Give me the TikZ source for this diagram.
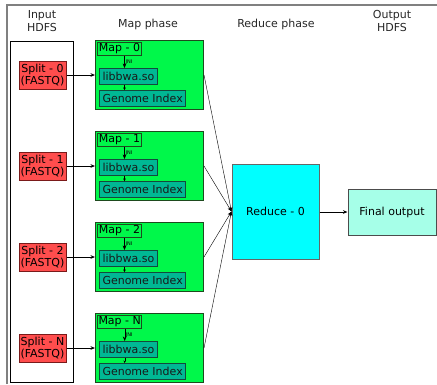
\documentclass[tikz,border=0pt]{standalone}
\usepackage{fontspec}
\setmainfont{DejaVu Sans}
\usetikzlibrary{arrows.meta,positioning}
\definecolor{framegray}{HTML}{808080}
\definecolor{splitred}{HTML}{FF4D4D}
\definecolor{splitline}{HTML}{7A1A1A}
\definecolor{mapgreen}{HTML}{00F84A}
\definecolor{mapline}{HTML}{1E4A1E}
\definecolor{libteal}{HTML}{00B894}
\definecolor{libline}{HTML}{134A3C}
\definecolor{redcyan}{HTML}{00FFFF}
\definecolor{outaqua}{HTML}{A6FFE8}

\begin{document}
\begin{tikzpicture}[
    x=1pt, y=-1pt,
    >={Stealth[length=4.5pt,width=3.6pt]},
    font=\fontsize{11}{12.5}\selectfont,
    split/.style={draw=splitline, fill=splitred, line width=1pt, align=center,
                  minimum width=47pt, minimum height=28pt, inner sep=0pt},
    mapbox/.style={draw=mapline, fill=mapgreen, line width=1pt,
                   minimum width=108pt, minimum height=69pt, inner sep=0pt},
    maptag/.style={draw=mapline, fill=mapgreen, line width=1pt,
                   minimum width=44pt, minimum height=13pt, inner xsep=1pt, inner ysep=0pt},
    libbox/.style={draw=libline, fill=libteal, line width=1pt, text=black!90,
                   minimum height=16pt, inner xsep=3pt, inner ysep=0pt},
    jni/.style={font=\fontsize{5}{5}\selectfont, inner sep=1pt},
    head/.style={align=center, text=black!85},
  ]

\useasboundingbox (0,0) rectangle (437,384);

% page frame (left and top edges)
\draw[framegray, line width=1.4pt] (7,384) -- (7,5) -- (437,5);

% column headings
\node[head] (hin) at (42,21) {Input\\HDFS};
\node[head] (hmap) at (148,24) {Map phase};
\node[head] (hred) at (276,24) {Reduce phase};
\node[head] (hout) at (392,21) {Output\\HDFS};

% input column
\draw[black, line width=0.8pt] (10,41) rectangle (73,382);

% input splits
\node[split] (split0) at (42.5,75) {Split - 0\\(FASTQ)};
\node[split] (split1) at (42.5,166) {Split - 1\\(FASTQ)};
\node[split] (split2) at (42.5,257) {Split - 2\\(FASTQ)};
\node[split] (splitN) at (42.5,348) {Split - N\\(FASTQ)};

% map tasks
\node[mapbox, anchor=north west] (map0) at (95,40) {};
\node[maptag, anchor=north west] (tag0) at ([shift={(2,2)}]map0.north west) {Map - 0};
\node[libbox, anchor=north west] (lib0) at ([shift={(4,28)}]map0.north west) {libbwa.so};
\node[libbox, anchor=north west] (gen0) at ([yshift=-5pt]lib0.south west) {Genome Index};

\node[mapbox, anchor=north west] (map1) at (95,131) {};
\node[maptag, anchor=north west] (tag1) at ([shift={(2,2)}]map1.north west) {Map - 1};
\node[libbox, anchor=north west] (lib1) at ([shift={(4,28)}]map1.north west) {libbwa.so};
\node[libbox, anchor=north west] (gen1) at ([yshift=-5pt]lib1.south west) {Genome Index};

\node[mapbox, anchor=north west] (map2) at (95,222) {};
\node[maptag, anchor=north west] (tag2) at ([shift={(2,2)}]map2.north west) {Map - 2};
\node[libbox, anchor=north west] (lib2) at ([shift={(4,28)}]map2.north west) {libbwa.so};
\node[libbox, anchor=north west] (gen2) at ([yshift=-5pt]lib2.south west) {Genome Index};

\node[mapbox, anchor=north west] (mapN) at (95,313) {};
\node[maptag, anchor=north west] (tagN) at ([shift={(2,2)}]mapN.north west) {Map - N};
\node[libbox, anchor=north west] (libN) at ([shift={(4,28)}]mapN.north west) {libbwa.so};
\node[libbox, anchor=north west] (genN) at ([yshift=-5pt]libN.south west) {Genome Index};

% JNI calls and index loading inside each map
\foreach \k in {0,1,2,N}{
  \draw[->] ([xshift=5pt]tag\k.south) -- ([xshift=5pt]tag\k.south |- lib\k.north)
    node[jni, midway, right] {JNI};
  \draw[->, >={Stealth[length=2.5pt,width=2.5pt]}]
    ([xshift=5pt]tag\k.south |- lib\k.south) -- ([xshift=5pt]tag\k.south |- gen\k.north);
}

% reduce and output
\node[draw=black!60, fill=redcyan, line width=1pt, minimum width=87pt,
      minimum height=95pt, inner sep=0pt] (reduce) at (275.5,211.5) {Reduce - 0};
\node[draw=black!70, fill=outaqua, line width=1pt, minimum width=88pt,
      minimum height=46pt, inner sep=0pt] (final) at (392,212) {Final output};

% data flow
\draw[->, line width=0.9pt] (split0.east) -- (split0.east -| map0.west);
\draw[->, line width=0.9pt] (split1.east) -- (split1.east -| map1.west);
\draw[->, line width=0.9pt] (split2.east) -- (split2.east -| map2.west);
\draw[->, line width=0.9pt] (splitN.east) -- (splitN.east -| mapN.west);

\draw[->] (map0.east) -- (reduce.west);
\draw[->] (map1.east) -- (reduce.west);
\draw[->] (map2.east) -- (reduce.west);
\draw[->] (mapN.east) -- (reduce.west);

\draw[->, line width=0.9pt] (reduce.east |- final.west) -- (final.west);

\end{tikzpicture}
\end{document}
